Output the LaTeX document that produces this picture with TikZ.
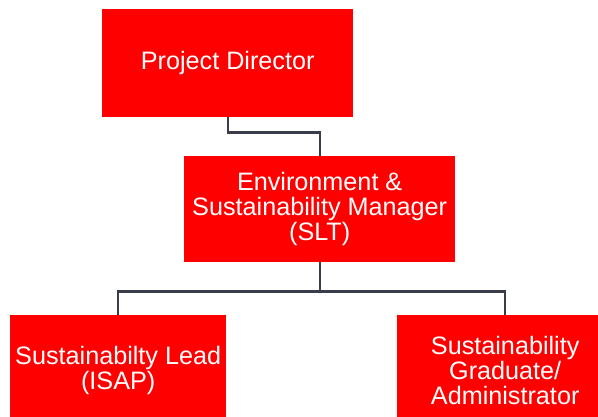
\documentclass[tikz,border=0pt]{standalone}
\usepackage{fontspec}
\setmainfont{Liberation Sans}
\definecolor{boxred}{RGB}{255,0,0}
\definecolor{conncol}{RGB}{58,60,75}
\begin{document}
\begin{tikzpicture}[x=1pt,y=-1pt,
  box/.style={fill=boxred, text=white, align=center, anchor=north west, inner sep=0pt,
    font=\fontsize{25.2}{25}\selectfont},
  conn/.style={draw=conncol, line width=2.4pt}]
\useasboundingbox (0,0) rectangle (598,417);
\begin{scope}
\clip (0,0) rectangle (598,417);
\node[box, minimum width=251pt, minimum height=108pt] (pd) at (102,9) {Project Director};
\node[box, minimum width=271pt, minimum height=106pt] (env) at (184,156) {Environment \&\\Sustainability Manager\\(SLT)};
\node[box, minimum width=216pt, minimum height=110pt] (lead) at (10,315) {Sustainabilty Lead\\(ISAP)};
\node[box, minimum width=216pt, minimum height=110pt] (grad) at (397,315) {Sustainability\\Graduate/\\Administrator};
\end{scope}
\draw[conn] (pd.south) -- ++(0,15) -| (env.north);
\draw[conn] (env.south) -- ++(0,29) coordinate (j);
\draw[conn] (j) -| (lead.north);
\draw[conn] (j) -| (grad.north);
\end{tikzpicture}
\end{document}
